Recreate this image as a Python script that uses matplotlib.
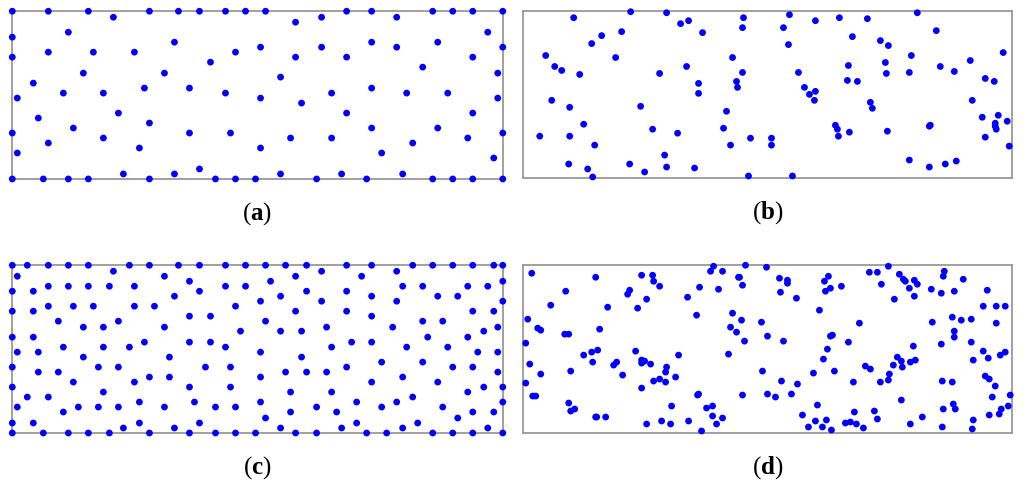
""" Four point layouts in a rectangle: (a)-(d). """

import numpy as np
import matplotlib
matplotlib.use("Agg")
import matplotlib.pyplot as plt

# point positions, box is 490 x 168
pts_a = [(0, 168), (36, 168), (76, 168), (101, 162), (137, 168), (166, 168), (0, 142), (56, 147),
         (162, 137), (0, 122), (36, 127), (81, 127), (122, 127), (71, 106), (152, 106), (21, 96),
         (132, 91), (5, 81), (51, 86), (91, 86), (106, 66), (26, 61), (137, 56), (0, 46), (61, 51),
         (36, 36), (91, 41), (127, 31), (5, 26), (0, 0), (31, 0), (56, 0), (76, 0), (111, 5),
         (137, 0), (162, 5),
         (187, 168), (213, 168), (233, 168), (253, 168), (283, 157), (309, 162), (223, 127),
         (248, 132), (309, 132), (198, 117), (283, 122), (268, 102), (177, 91), (213, 86),
         (248, 81), (289, 76), (319, 86), (177, 46), (218, 46), (278, 41), (319, 41), (248, 31),
         (187, 10), (203, 0), (223, 0), (243, 0), (268, 5), (304, 0), (329, 5),
         (334, 168), (359, 168), (384, 162), (420, 168), (440, 168), (460, 168), (490, 168),
         (475, 147), (359, 137), (384, 132), (425, 137), (490, 132), (334, 122), (460, 122),
         (410, 112), (485, 106), (359, 91), (394, 86), (435, 86), (485, 81), (334, 66), (460, 66),
         (359, 51), (425, 51), (455, 41), (490, 46), (400, 36), (369, 26), (481, 21), (354, 0),
         (390, 5), (420, 0), (440, 0), (460, 0), (490, 0)]

pts_b = [(51, 161), (108, 167), (144, 166), (158, 155), (166, 158), (79, 143), (69, 135), (99, 147),
         (23, 123), (93, 121), (32, 112), (39, 108), (57, 104), (137, 105), (164, 112), (29, 78),
         (47, 71), (118, 72), (61, 54), (17, 42), (47, 42), (130, 49), (155, 45), (72, 33),
         (142, 23), (46, 14), (65, 9), (70, 1), (107, 14), (122, 6), (144, 11),
         (221, 161), (220, 151), (267, 164), (261, 151), (293, 158), (317, 161), (180, 146),
         (330, 142), (266, 134), (210, 121), (220, 106), (276, 106), (326, 113), (325, 98),
         (176, 95), (176, 85), (214, 97), (215, 91), (282, 91), (287, 84), (293, 87), (292, 78),
         (204, 67), (201, 50), (313, 53), (315, 49), (316, 42), (327, 46), (228, 40), (208, 33),
         (249, 40), (249, 33), (172, 10), (226, 2), (270, 2),
         (345, 160), (395, 166), (358, 138), (366, 133), (414, 148), (389, 123), (481, 126),
         (363, 116), (364, 105), (387, 106), (418, 112), (432, 107), (448, 118), (463, 100),
         (472, 97), (335, 97), (450, 78), (348, 76), (350, 70), (460, 61), (476, 63), (485, 57),
         (473, 55), (473, 52), (474, 49), (408, 53), (407, 52), (365, 47), (463, 41), (487, 32),
         (387, 18), (407, 11), (423, 14), (434, 17)]

pts_c = [(0, 168), (15, 168), (36, 168), (56, 168), (76, 168), (117, 168), (137, 168), (166, 168),
         (5, 157), (101, 162), (152, 157), (0, 142), (21, 142), (36, 147), (56, 147), (76, 147),
         (97, 147), (122, 147), (162, 137), (0, 122), (21, 122), (36, 127), (61, 127), (81, 127),
         (122, 127), (142, 127), (46, 112), (71, 106), (91, 106), (106, 112), (152, 106),
         (0, 96), (21, 96), (132, 91), (5, 81), (26, 81), (51, 86), (91, 86), (117, 86),
         (157, 76), (71, 76), (0, 66), (26, 61), (46, 61), (86, 66), (106, 66), (0, 46),
         (61, 51), (122, 51), (137, 56), (157, 56), (15, 36), (36, 36), (91, 41), (5, 26),
         (51, 21), (66, 26), (86, 26), (106, 26), (127, 31), (152, 26), (0, 10), (21, 10),
         (127, 10), (0, 0), (31, 0), (56, 0), (76, 0), (97, 0), (111, 5), (137, 0), (162, 5),
         (187, 168), (213, 168), (233, 168), (253, 168), (273, 168), (294, 168), (309, 162),
         (283, 157), (177, 152), (258, 152), (187, 142), (213, 147), (233, 147), (294, 142),
         (248, 132), (268, 137), (309, 132), (223, 127), (177, 117), (198, 117), (283, 122),
         (253, 112), (228, 102), (268, 102), (289, 102), (314, 106), (177, 91), (198, 91),
         (213, 86), (319, 86), (248, 81), (289, 76), (193, 66), (218, 66), (248, 56), (273, 61),
         (294, 61), (314, 61), (177, 46), (218, 46), (278, 41), (319, 41), (182, 31), (203, 26),
         (223, 26), (248, 31), (304, 26), (324, 21), (278, 21), (253, 15), (187, 10), (177, 0),
         (203, 0), (223, 0), (243, 0), (268, 5), (283, 0), (304, 0), (329, 5),
         (334, 168), (359, 168), (400, 168), (420, 168), (440, 168), (460, 168), (481, 168),
         (490, 168), (349, 157), (384, 162), (490, 152), (334, 142), (359, 137), (390, 147),
         (410, 147), (425, 137), (445, 137), (455, 147), (475, 147), (384, 132), (490, 132),
         (334, 122), (359, 117), (460, 122), (481, 122), (380, 106), (410, 112), (430, 112),
         (485, 106), (471, 102), (455, 96), (415, 96), (339, 91), (359, 91), (394, 86),
         (435, 86), (465, 81), (485, 81), (369, 71), (410, 71), (334, 66), (440, 66), (460, 66),
         (485, 61), (359, 51), (390, 56), (425, 51), (471, 46), (455, 41), (490, 46), (400, 36),
         (344, 31), (384, 31), (369, 26), (430, 26), (490, 31), (460, 21), (481, 21), (445, 15),
         (344, 10), (405, 10), (354, 0), (374, 0), (390, 5), (420, 0), (440, 0), (460, 0),
         (475, 5), (490, 0)]

pts_d = [(9, 160), (73, 156), (119, 158), (130, 158), (131, 152), (137, 147), (43, 142), (107, 143),
         (105, 139), (124, 134), (115, 125), (165, 136), (28, 128), (85, 126), (5, 114), (15, 105),
         (18, 103), (77, 104), (42, 99), (46, 99), (3, 90), (61, 78), (69, 81), (75, 83), (70, 71),
         (113, 82), (7, 69), (91, 68), (94, 71), (119, 73), (119, 70), (122, 72), (128, 69),
         (156, 78), (144, 66), (143, 61), (48, 62), (18, 59), (100, 58), (3, 50), (131, 52),
         (137, 54), (143, 51), (153, 56), (119, 45), (10, 37), (13, 37), (46, 30), (48, 22),
         (52, 24), (149, 27), (73, 16), (74, 16), (83, 16), (124, 9), (139, 12), (148, 9),
         (166, 12),
         (191, 167), (188, 162), (200, 162), (223, 168), (244, 166), (216, 156), (217, 156),
         (220, 148), (257, 155), (265, 153), (265, 150), (258, 141), (306, 157), (302, 152),
         (308, 145), (303, 142), (319, 147), (177, 146), (196, 144), (274, 135), (297, 123),
         (174, 118), (210, 120), (219, 113), (239, 111), (208, 106), (214, 101), (222, 92),
         (245, 97), (261, 92), (308, 97), (310, 98), (326, 91), (305, 84), (301, 74), (206, 79),
         (240, 62), (291, 60), (312, 62), (259, 52), (275, 49), (331, 51), (175, 38), (176, 39),
         (220, 38), (245, 39), (253, 36), (269, 39), (295, 28), (184, 25), (190, 27), (190, 17),
         (200, 15), (194, 9), (179, 2), (280, 18), (286, 6), (293, 12), (300, 6), (304, 13),
         (309, 3), (323, 10), (328, 11), (332, 21),
         (366, 167), (347, 161), (355, 161), (377, 159), (381, 154), (383, 152), (359, 149),
         (387, 145), (392, 153), (395, 149), (392, 137), (372, 134), (409, 144), (419, 140),
         (422, 162), (421, 157), (441, 154), (432, 142), (465, 143), (461, 127), (474, 127),
         (483, 127), (337, 110), (410, 111), (430, 116), (439, 113), (449, 114), (474, 110),
         (432, 102), (432, 96), (391, 87), (419, 89), (449, 91), (375, 76), (379, 72), (371, 68),
         (380, 66), (388, 71), (393, 73), (343, 67), (348, 64), (461, 82), (466, 75), (483, 81),
         (478, 78), (451, 73), (367, 59), (366, 53), (358, 51), (420, 52), (430, 51), (463, 57),
         (467, 54), (473, 47), (488, 38), (470, 36), (379, 33), (431, 29), (433, 24), (421, 24),
         (479, 24), (486, 27), (477, 19), (467, 18), (352, 22), (355, 14), (334, 9), (341, 5),
         (400, 16), (388, 9), (420, 6), (451, 13), (450, 4)]

labels = ["a", "b", "c", "d"]
box_w, box_h = 490, 168

plt.rcParams["font.family"] = ["Liberation Serif", "DejaVu Serif"]
plt.rcParams["mathtext.fontset"] = "custom"
plt.rcParams["mathtext.bf"] = "Liberation Serif:bold"

fig = plt.figure(figsize=(10.24, 4.89), dpi=100)

# axes rectangles in figure fractions
rects = [[0.012, 0.632, 0.479, 0.343],
         [0.5105, 0.634, 0.478, 0.342],
         [0.012, 0.1125, 0.479, 0.343],
         [0.5105, 0.1125, 0.478, 0.343]]

for pts, rect, lab in zip([pts_a, pts_b, pts_c, pts_d], rects, labels):
    ax = fig.add_axes(rect)
    xy = np.array(pts, dtype=float)
    ax.scatter(xy[:, 0], xy[:, 1], s=24, color="#0000ff", edgecolors="none",
               clip_on=False, zorder=3)
    ax.set_xlim(0, box_w)
    ax.set_ylim(0, box_h)
    ax.set_xticks([])
    ax.set_yticks([])
    for sp in ax.spines.values():
        sp.set_color("#999999")
        sp.set_linewidth(1.3)
    ax.text(0.5, -0.2, "(" + r"$\mathbf{" + lab + "}$" + ")", transform=ax.transAxes,
            ha="center", va="center", fontsize=18)

fig.savefig("out.png", dpi=100)
